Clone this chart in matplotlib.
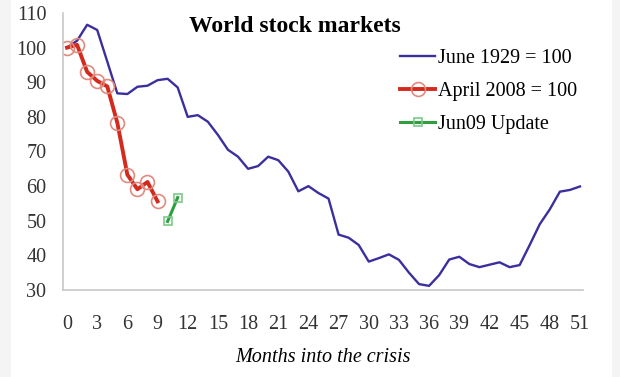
import matplotlib.pyplot as plt
from matplotlib.patches import Rectangle

plt.rcParams['font.family'] = ['Liberation Serif', 'DejaVu Serif']

# 1929 index (June 1929 = 100), monthly
months_1929 = list(range(0, 52))
vals_1929 = [100, 102, 106.6, 105.1, 96, 86.8, 86.6, 88.7, 89, 90.6,
             91, 88.5, 80, 80.5, 78.6, 74.8, 70.5, 68.5, 65, 65.8,
             68.5, 67.5, 64.2, 58.5, 60, 58, 56.4, 46, 45.1, 43,
             38.2, 39.2, 40.3, 38.7, 35, 31.7, 31.2, 34.3, 38.8, 39.6,
             37.5, 36.6, 37.3, 38, 36.6, 37.2, 43, 49, 53.3, 58.4,
             58.9, 59.9]

# 2008 index (April 2008 = 100)
months_2008 = list(range(0, 10))
vals_2008 = [100, 100.8, 93, 90.4, 88.8, 78.3, 63.3, 59.1, 61.2, 55.6]

# June 2009 update
months_upd = [10, 11]
vals_upd = [49.8, 56.7]

xticks = list(range(0, 52, 3))
yticks = list(range(30, 111, 10))

fig = plt.figure(figsize=(6.2, 3.77), dpi=100)
fig.patch.set_facecolor('#f4f4f4')
# white panel behind the chart (grey strips at the sides)
fig.patches.append(Rectangle((11/620, 0), 601/620, 1, transform=fig.transFigure,
                             facecolor='white', edgecolor='none', zorder=-10))
ax = fig.add_axes([63/620, 1-290/377, 520/620, 277/377])
ax.set_facecolor('white')

ax.plot(months_1929, vals_1929, color='#3b2f9e', lw=1.7, label='June 1929 = 100')
ax.plot(months_2008, vals_2008, color='#d42a1e', lw=2.8, marker='o', ms=10,
        mfc='none', mec='#e08a80', mew=1.2, label='April 2008 = 100')
ax.plot(months_upd, vals_upd, color='#2e9e3e', lw=2.2, marker='s', ms=6,
        mfc='none', mec='#7cc98a', mew=1.2, label='Jun09 Update')

ax.set_xlim(-0.4, 51.3)
ax.set_ylim(30, 110)
ax.set_xticks(xticks)
ax.set_yticks(yticks)
ax.tick_params(length=0, labelsize=14.5, colors='#333333')
ax.tick_params(axis='x', pad=18)
ax.tick_params(axis='y', pad=12)
for s in ['top', 'right']:
    ax.spines[s].set_visible(False)
for s in ['left', 'bottom']:
    ax.spines[s].set_color('#c8c8c8')
    ax.spines[s].set_linewidth(1.2)

ax.text(0.445, 0.99, 'World stock markets', transform=ax.transAxes,
        ha='center', va='top', fontsize=17, fontweight='bold')
ax.set_xlabel('Months into the crisis', fontsize=14.5, style='italic', labelpad=10)

ax.legend(loc='upper left', bbox_to_anchor=(0.613, 0.935), frameon=False,
          fontsize=14.5, handlelength=1.75, handletextpad=0.15, labelspacing=0.68)

plt.savefig('out.png', dpi=100)
